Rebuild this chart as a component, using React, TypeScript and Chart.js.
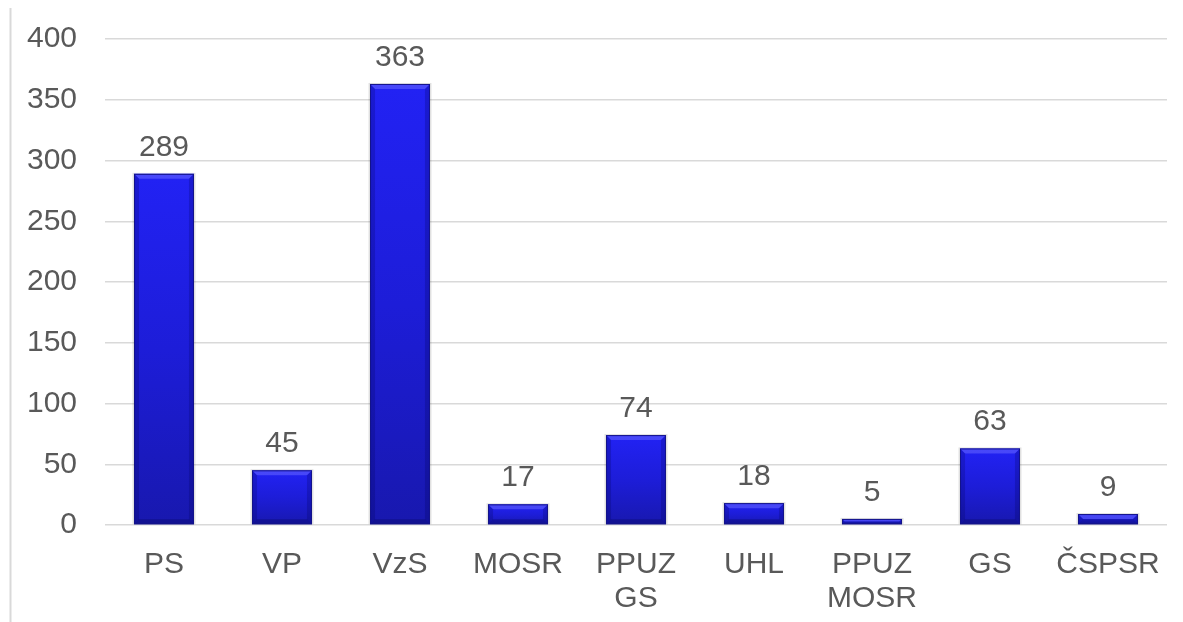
import React, { useEffect, useRef } from "react";
import { Chart, registerables } from "chart.js";

Chart.register(...registerables);

const categories: (string | string[])[] = ["PS", "VP", "VzS", "MOSR", ["PPUZ", "GS"], "UHL", ["PPUZ", "MOSR"], "GS", "ČSPSR"];
const values: number[] = [289, 45, 363, 17, 74, 18, 5, 63, 9];
const yTicks = { min: 0, max: 400, step: 50 };

const FONT = "'Liberation Sans', Arial, sans-serif";
const TEXT = "#595959";

const decorPlugin = {
  id: "decor",
  beforeDraw(chart: any) {
    const ctx = chart.ctx;
    ctx.save();
    ctx.strokeStyle = "#d9d9d9";
    ctx.lineWidth = 2;
    ctx.beginPath();
    ctx.moveTo(10.5, 8);
    ctx.lineTo(10.5, chart.height);
    ctx.stroke();
    ctx.restore();
  },
  beforeDatasetsDraw(chart: any) {
    const ctx = chart.ctx;
    const meta = chart.getDatasetMeta(0);
    ctx.save();
    meta.data.forEach((bar: any) => {
      const { x, y, base, width } = bar.getProps(["x", "y", "base", "width"], true);
      ctx.fillStyle = "rgba(0,0,0,0.12)";
      ctx.fillRect(x - width / 2 - 1.5, y - 1, width + 3, base - y + 1);
    });
    ctx.restore();
  },
  afterDatasetsDraw(chart: any) {
    const ctx = chart.ctx;
    const meta = chart.getDatasetMeta(0);
    ctx.save();
    meta.data.forEach((bar: any, i: number) => {
      const { x, y, base, width } = bar.getProps(["x", "y", "base", "width"], true);
      const l = x - width / 2;
      const r = x + width / 2;
      const h = base - y;
      const bev = Math.min(5, h / 2);
      ctx.fillStyle = "rgba(110,110,255,0.5)";
      ctx.beginPath();
      ctx.moveTo(l, y);
      ctx.lineTo(r, y);
      ctx.lineTo(r - bev, y + bev);
      ctx.lineTo(l + bev, y + bev);
      ctx.closePath();
      ctx.fill();
      ctx.fillStyle = "rgba(0,0,80,0.22)";
      ctx.beginPath();
      ctx.moveTo(l, y);
      ctx.lineTo(l + bev, y + bev);
      ctx.lineTo(l + bev, base - bev);
      ctx.lineTo(l, base);
      ctx.closePath();
      ctx.fill();
      ctx.beginPath();
      ctx.moveTo(r, y);
      ctx.lineTo(r - bev, y + bev);
      ctx.lineTo(r - bev, base - bev);
      ctx.lineTo(r, base);
      ctx.closePath();
      ctx.fill();
      ctx.fillStyle = "rgba(0,0,60,0.25)";
      ctx.beginPath();
      ctx.moveTo(l, base);
      ctx.lineTo(r, base);
      ctx.lineTo(r - bev, base - bev);
      ctx.lineTo(l + bev, base - bev);
      ctx.closePath();
      ctx.fill();
      ctx.strokeStyle = "#14148a";
      ctx.lineWidth = 1;
      ctx.strokeRect(l + 0.5, y + 0.5, width - 1, h - 1);
      ctx.fillStyle = TEXT;
      ctx.font = `30px ${FONT}`;
      ctx.textAlign = "center";
      ctx.textBaseline = "alphabetic";
      ctx.fillText(String(values[i]), x, y - 18);
    });
    ctx.restore();
  },
};

export default function App() {
  const ref = useRef<HTMLCanvasElement | null>(null);
  useEffect(() => {
    document.body.style.margin = "0";
    const canvas = ref.current!;
    const chart = new Chart(canvas, {
      type: "bar",
      data: {
        labels: categories,
        datasets: [
          {
            data: values,
            backgroundColor: (c: any) => {
              const ch = c.chart;
              const ys = ch.scales?.y;
              if (!ys || c.dataIndex === undefined) return "#1e1ee0";
              const top = ys.getPixelForValue(values[c.dataIndex]);
              const bot = ys.getPixelForValue(0);
              if (!isFinite(top) || !isFinite(bot) || bot - top < 1) return "#1e1ee0";
              const g = ch.ctx.createLinearGradient(0, top, 0, bot);
              g.addColorStop(0, "#2222f4");
              g.addColorStop(0.5, "#1d1dd8");
              g.addColorStop(1, "#1818ae");
              return g;
            },
            borderWidth: 0,
            categoryPercentage: 1,
            barPercentage: 0.508,
          },
        ],
      },
      options: {
        animation: false,
        responsive: false,
        maintainAspectRatio: false,
        layout: { padding: { left: 0, top: 39, right: 16, bottom: 0 } },
        plugins: { legend: { display: false }, tooltip: { enabled: false } },
        scales: {
          x: {
            grid: { display: false },
            border: { display: false },
            ticks: {
              color: TEXT,
              font: { family: FONT, size: 30, lineHeight: 1.13 },
              padding: 15,
              maxRotation: 0,
              autoSkip: false,
            },
            afterFit: (s: any) => {
              s.height = 97;
              s.paddingLeft = 0;
              s.paddingRight = 0;
            },
          },
          y: {
            min: yTicks.min,
            max: yTicks.max,
            border: { display: false },
            grid: { color: "#d9d9d9", lineWidth: 1.5, drawTicks: false },
            ticks: {
              stepSize: yTicks.step,
              color: TEXT,
              font: { family: FONT, size: 30 },
              padding: 28,
            },
            afterFit: (s: any) => {
              s.width = 105;
              s.paddingTop = 0;
              s.paddingBottom = 0;
            },
          },
        },
      },
      plugins: [decorPlugin],
    });
    return () => chart.destroy();
  }, []);
  return (
    <div style={{ width: 1183, height: 622, background: "#fff" }}>
      <canvas ref={ref} width={1183} height={622} style={{ display: "block" }} />
    </div>
  );
}
